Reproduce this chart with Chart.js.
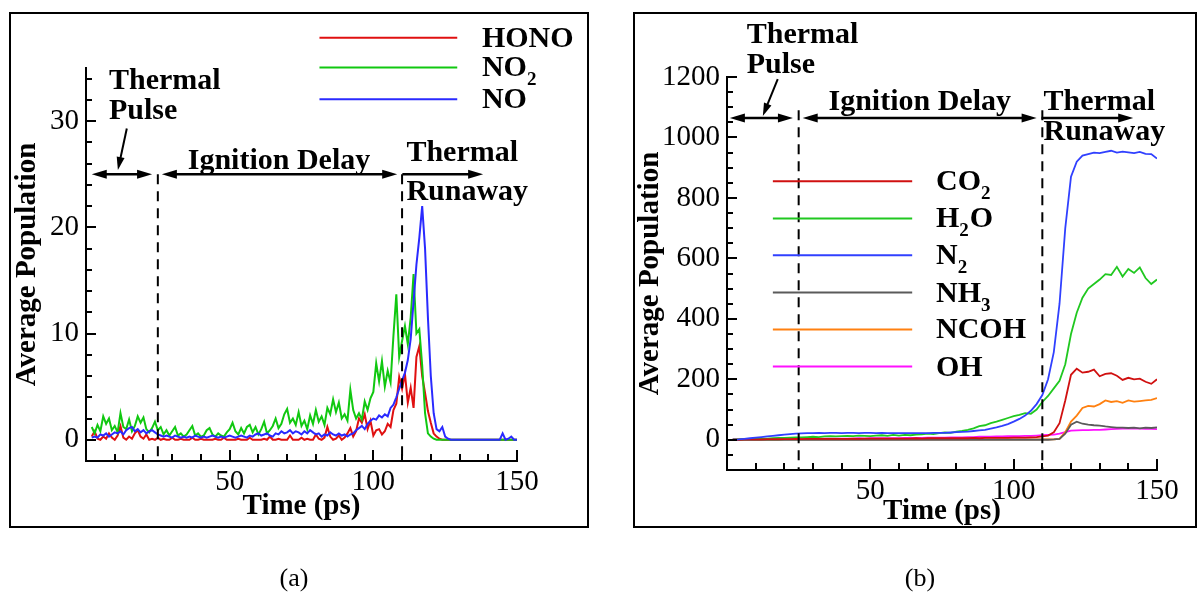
<!DOCTYPE html>
<html><head><meta charset="utf-8">
<script src="https://cdn.jsdelivr.net/npm/chart.js@4.4.0/dist/chart.umd.min.js"></script>
<style>
html,body{margin:0;padding:0;background:#fff;}
body{width:1198px;height:594px;position:relative;overflow:hidden;font-family:'Liberation Serif',serif;}
.frame{position:absolute;border:2px solid #000;box-sizing:border-box;}
canvas{position:absolute;left:0;top:0;}
.cap{position:absolute;font:26px 'Liberation Serif',serif;transform:translate(-50%,-50%);color:#000;}
</style></head>
<body>
<div class="frame" style="left:9px;top:12px;width:580px;height:516px"></div>
<div class="frame" style="left:633px;top:12px;width:564px;height:516px"></div>
<canvas id="ca" width="1198" height="594"></canvas>
<canvas id="cb" width="1198" height="594"></canvas>
<div class="cap" style="left:294px;top:578px">(a)</div>
<div class="cap" style="left:920px;top:578px">(b)</div>
<script>
const SERIF = "'Liberation Serif', 'Times New Roman', serif";
Chart.defaults.font.family = SERIF;
Chart.defaults.color = '#000';

// ---------- Panel (a) data ----------
const timeA = Array.from({length:149}, (_, i) => i + 2); // 2..150 ps
const honoA = [
 0.3,0.8,0.1,0,0.3,0.1,0.6,0.2,0,0.4,1.3,0.2,0,0.3,0.1,0.6,0.9,0.3,0.1,0.5,0,0.1,0,0.2,
 0,0.1,0,0,0.2,0,0,0.1,0,0,0,0.2,0,0,0.1,0,0,0,0,0.1,0,0,0.2,0,0,
 0,0,0.1,0,0,0,0.2,0,0,0,0,0.1,0,0.3,0,0,0.1,0,0,0,0.4,0,0,0,0.2,
 0,0.1,0,0,0.5,0.1,0,0.2,1.2,0.3,0,0.1,0.4,0,0.2,0.6,1.1,0.3,0.8,2.0,1.6,2.4,1.0,1.8,0.4,
 0.9,1.0,0.5,0.8,1.5,1.2,2.8,3.4,5.9,4.8,6.2,3.5,4.9,3.0,7.8,8.8,6.0,4.4,2.7,1.6,0.6,0.3,0.1,0,0,
 0,0,0,0,0,0,0,0,0,0,0,0,0,0,0,0,0,0,0,0,0,0,0,0,0
];
const no2A = [
 1.2,0.6,1.4,0.8,2.2,1.5,2.0,0.9,1.3,0.7,2.5,1.2,1.0,1.9,0.8,1.3,2.2,1.6,2.1,1.0,0.7,1.1,1.7,0.9,
 1.2,0.5,0.9,0.4,0.8,1.2,0.4,0.6,0.3,0.5,0.9,1.3,0.4,0.6,0.3,0.4,0.9,1.1,0.5,0.3,0.6,0.4,0.3,0.7,1.0,
 1.6,0.8,0.5,1.1,0.6,1.2,1.4,0.7,1.2,0.5,1.0,1.7,0.6,0.9,1.3,2.0,1.1,1.5,2.4,2.9,1.6,2.0,1.4,2.6,1.3,
 1.8,1.0,2.3,1.5,2.8,1.7,2.2,1.4,3.0,2.4,3.8,2.6,3.5,2.0,2.4,1.8,4.7,2.8,2.0,2.5,1.9,3.6,2.8,3.9,4.5,
 7.2,5.5,7.4,5.0,6.5,5.4,9.8,13.7,7.8,9.3,10.7,9.0,11.5,15.6,10.0,10.4,7.0,2.5,0.6,0.3,0.1,0,0,0,0,
 0,0,0,0,0,0,0,0,0,0,0,0,0,0,0,0,0,0,0,0,0,0,0,0,0
];
const noA = [
 0.2,0.3,0.2,0.5,0.4,0.6,0.3,0.5,0.7,0.6,0.8,0.5,0.9,1.1,1.2,0.8,1.0,0.7,0.9,0.6,0.8,0.9,0.7,0.5,
 0.4,0.3,0.4,0.3,0.2,0.4,0.3,0.2,0.3,0.2,0.3,0.2,0.4,0.3,0.2,0.3,0.2,0.3,0.4,0.3,0.2,0.3,0.2,0.3,0.4,
 0.3,0.2,0.3,0.4,0.3,0.2,0.4,0.3,0.5,0.6,0.4,0.5,0.6,0.4,0.3,0.6,0.5,0.8,0.6,0.7,0.9,0.6,0.8,0.7,0.5,
 0.8,0.6,0.9,0.7,0.5,0.6,0.3,0.5,0.4,0.7,0.5,0.4,0.6,0.4,0.5,0.3,0.5,0.6,0.9,1.1,1.3,1.0,1.5,1.8,2.0,
 1.9,2.3,2.1,2.4,2.2,3.0,3.3,4.0,4.8,5.6,6.3,7.5,9.5,13.0,16.5,19.0,22.0,18.0,11.5,6.0,2.5,1.0,0.8,1.2,0.3,
 0.1,0,0,0,0,0,0,0,0,0,0,0,0,0,0,0,0,0,0,0.6,0,0.1,0.3,0,0
];
const xTicksA = [50, 100, 150];
const yTicksA = [0, 10, 20, 30];

// ---------- Panel (b) data ----------
const timeB = Array.from({length:75}, (_, i) => 2 + 2 * i); // 2..150 ps
const co2B = [0,0,1,1,1, 1,2,2,2,2, 2,3,2,3,3, 3,3,3,3,3, 3,4,3,4,4, 4,4,4,4,4, 4,4,5,4,5, 5,5,5,5,5,
  5,5,6,5,6, 6,6,6,6,7, 7,7,8,9,11, 14,25,55,130,215, 235,222,225,232,210, 218,220,212,198,205, 200,202,192,185,200];
const h2oB = [0,1,2,2,3, 4,4,5,6,6, 7,8,8,9,10, 9,11,12,11,12, 13,12,14,13,12, 14,15,13,16,14, 16,15,17,18,20,
  19,22,24,23,27, 29,33,38,45,48, 55,60,66,72,78, 82,88,86,100,125, 145,170,195,250,350,
  420,470,500,515,530, 548,545,572,540,565, 552,570,535,515,530];
const n2B = [0,1,3,5,7, 9,11,13,15,17, 19,20,21,22,22, 23,22,23,23,22, 23,23,22,23,23, 22,23,22,22,22,
  22,22,22,22,22, 23,23,23,24,25, 26,27,29,31,33, 37,41,46,52,60, 69,80,96,118,148,
  200,290,450,700,870, 920,940,945,950,948, 952,956,950,953,951, 948,952,946,945,930];
const nh3B = [0,0,0,0,0, 0,0,0,0,0, 0,0,0,0,0, 0,0,0,0,0, 0,0,0,0,0, 0,0,0,0,0, 0,0,0,0,0,
  0,0,0,0,0, 0,0,0,0,0, 0,0,0,0,0, 0,0,0,0,0, 0,1,3,20,50, 60,53,50,48,47, 44,42,40,40,39, 40,38,40,39,41];
const ncohB = [0,0,0,0,0, 0,0,0,0,1, 1,1,1,1,1, 1,1,1,1,1, 1,1,1,1,1, 1,1,1,1,1, 1,1,1,1,1,
  1,1,1,1,1, 1,1,1,1,1, 1,1,1,1,1, 1,1,1,1,1, 1,1,3,25,60, 80,105,112,110,118, 130,125,128,122,130, 126,128,130,132,138];
const ohB = [0,0,1,1,1, 1,2,2,2,2, 3,3,3,3,3, 3,4,4,4,4, 4,4,5,4,5, 5,5,5,5,5, 6,6,6,6,7,
  7,7,7,8,8, 8,9,9,10,10, 10,11,11,12,12, 12,13,13,14,15, 16,17,20,25,30, 31,32,32,33,33, 34,35,36,37,37, 38,37,36,36,35];
const xTicksB = [50, 100, 150];
const yTicksB = [0, 200, 400, 600, 800, 1000, 1200];

const phaseBounds = [25, 110];

// ---------- decoration plugin (closure-held settings) ----------
function makeDecor(o) {
  return {
    id: 'decor',
    afterDraw(chart) {
      const ctx = chart.ctx, ca = chart.chartArea;
      const x = chart.scales.x, y = chart.scales.y;
      const X = v => x.getPixelForValue(v), Y = v => y.getPixelForValue(v);
      ctx.save();
      // inward tick marks (major + minor)
      ctx.fillStyle = '#000';
      const nY = Math.round((o.yTop - o.yMinorFrom) / o.yMinor);
      for (let k = 0; k <= nY; k++) {
        const v = o.yMinorFrom + k * o.yMinor;
        const len = o.yMajor.indexOf(v) >= 0 ? 10 : 6;
        const py = Math.round(Y(v));
        ctx.fillRect(Math.round(ca.left), py - 1, len, 2);
      }
      const nX = Math.round(o.xTop / o.xMinor);
      for (let k = 1; k <= nX; k++) {
        const v = k * o.xMinor;
        const len = o.xMajor.indexOf(v) >= 0 ? 11 : 7;
        const px = Math.round(X(v));
        ctx.fillRect(px - 1, Math.round(ca.bottom) - len, 2, len);
      }
      // phase boundaries (dashed)
      ctx.strokeStyle = '#000';
      ctx.lineWidth = 2; ctx.setLineDash([10, 7]);
      o.dashes.forEach(t => {
        ctx.beginPath(); ctx.moveTo(X(t), Y(o.dashTop)); ctx.lineTo(X(t), ca.bottom); ctx.stroke();
      });
      ctx.setLineDash([]);
      // arrows
      const head = (xa, ya, dir) => {
        ctx.beginPath(); ctx.moveTo(xa, ya); ctx.lineTo(xa - dir * 15, ya - 4.5); ctx.lineTo(xa - dir * 15, ya + 4.5); ctx.closePath(); ctx.fill();
      };
      ctx.fillStyle = '#000'; ctx.lineWidth = 2.5;
      const ay = Y(o.arrowY);
      o.arrows.forEach(([a, b, hs, he]) => {
        const xa = X(a), xb = X(b);
        ctx.beginPath(); ctx.moveTo(xa + (hs ? 6 : 0), ay); ctx.lineTo(xb - (he ? 6 : 0), ay); ctx.stroke();
        if (hs) head(xa, ay, -1);
        if (he) head(xb, ay, 1);
      });
      // pointer arrow from "Thermal Pulse"
      {
        const [t1, v1, t2, v2] = o.pointer;
        const x1 = X(t1), y1 = Y(v1), x2 = X(t2), y2 = Y(v2);
        const ang = Math.atan2(y2 - y1, x2 - x1);
        ctx.lineWidth = 2;
        ctx.beginPath(); ctx.moveTo(x1, y1); ctx.lineTo(x2 - 10 * Math.cos(ang), y2 - 10 * Math.sin(ang)); ctx.stroke();
        ctx.beginPath(); ctx.moveTo(x2, y2);
        ctx.lineTo(x2 - 13 * Math.cos(ang) + 4 * Math.sin(ang), y2 - 13 * Math.sin(ang) - 4 * Math.cos(ang));
        ctx.lineTo(x2 - 13 * Math.cos(ang) - 4 * Math.sin(ang), y2 - 13 * Math.sin(ang) + 4 * Math.cos(ang));
        ctx.closePath(); ctx.fill();
      }
      // annotation texts
      ctx.font = 'bold 30px ' + SERIF; ctx.textBaseline = 'alphabetic'; ctx.textAlign = 'left';
      o.texts.forEach(([s, t, v]) => ctx.fillText(s, X(t), Y(v)));
      // legend with subscripts
      const L = o.legend;
      chart.data.datasets.forEach((ds, i) => {
        const ly = Y(L.ys[i]);
        ctx.strokeStyle = ds.borderColor; ctx.lineWidth = 2;
        ctx.beginPath(); ctx.moveTo(X(L.x1), ly); ctx.lineTo(X(L.x2), ly); ctx.stroke();
        let cx = X(L.tx);
        ctx.fillStyle = '#000';
        L.parts[i].forEach(([s, sub]) => {
          ctx.font = sub ? 'bold 19px ' + SERIF : 'bold 30px ' + SERIF;
          ctx.fillText(s, cx, ly + 9 + (sub ? 9 : 0));
          cx += ctx.measureText(s).width + (sub ? 1 : 0);
        });
      });
      ctx.restore();
    }
  };
}

function makeOptions(p) {
  return {
    responsive: false, animation: false, devicePixelRatio: 1, events: [],
    layout: {padding: p.pad},
    elements: {point: {radius: 0}, line: {borderWidth: p.lw, tension: 0}},
    plugins: {legend: {display: false}, tooltip: {enabled: false}},
    scales: {
      x: {
        type: 'linear', min: 0, max: 150,
        afterBuildTicks: s => { s.ticks = p.xTicks.map(v => ({value: v})); },
        afterFit: s => { s.height = 60; },
        grid: {display: false, drawTicks: false},
        border: {display: true, color: '#000', width: 2},
        ticks: {autoSkip: false, maxRotation: 0, padding: 4, color: '#000', font: {size: 29, family: SERIF}, callback: v => String(v)},
        title: {display: true, text: 'Time (ps)', color: '#000', font: {size: 29, weight: 'bold', family: SERIF}, padding: {top: 0, bottom: p.xTitlePad}}
      },
      y: {
        type: 'linear', min: p.ymin, max: p.ymax,
        afterBuildTicks: s => { s.ticks = p.yTicks.map(v => ({value: v})); },
        afterFit: s => { s.width = p.yw; },
        grid: {display: false, drawTicks: false},
        border: {display: true, color: '#000', width: 2},
        ticks: {autoSkip: false, padding: 7, color: '#000', font: {size: 29, family: SERIF}, callback: v => String(v)},
        title: {display: true, text: 'Average Population', color: '#000', font: {size: 29, weight: 'bold', family: SERIF}, padding: {top: 10.6, bottom: 0}}
      }
    }
  };
}

const xy = (ts, vs) => ts.map((t, i) => ({x: t, y: vs[i]}));

new Chart(document.getElementById('ca'), {
  type: 'line',
  data: {datasets: [
    {label: 'HONO', data: xy(timeA, honoA), borderColor: '#e01010', order: 2},
    {label: 'NO2', data: xy(timeA, no2A), borderColor: '#10c810', order: 1},
    {label: 'NO', data: xy(timeA, noA), borderColor: '#2a2aff', order: 0}
  ]},
  options: makeOptions({
    pad: {left: 0, top: 68, right: 681, bottom: 73}, yw: 86, lw: 2, xTitlePad: -3,
    ymin: -2, ymax: 35, xTicks: xTicksA, yTicks: yTicksA
  }),
  plugins: [makeDecor({
    yMinorFrom: -2, yMinor: 2, yTop: 34, yMajor: yTicksA, xMinor: 10, xTop: 150, xMajor: xTicksA,
    dashes: phaseBounds, dashTop: 25, arrowY: 25,
    arrows: [[2, 23, true, true], [26.4, 108.3, true, true], [110.1, 138.2, false, true]],
    pointer: [14.2, 29.3, 11.1, 25.4],
    texts: [['Thermal', 8, 33.0], ['Pulse', 8, 30.2], ['Ignition Delay', 35.4, 25.5], ['Thermal', 111.5, 26.2], ['Runaway', 111.5, 22.6]],
    legend: {x1: 81.25, x2: 129.2, tx: 137.8, ys: [37.85, 35.05, 32.06],
      parts: [[['HONO']], [['NO'], ['2', 1]], [['NO']]]}
  })]
});

new Chart(document.getElementById('cb'), {
  type: 'line',
  data: {datasets: [
    {label: 'CO2', data: xy(timeB, co2B), borderColor: '#d01010', order: 1},
    {label: 'H2O', data: xy(timeB, h2oB), borderColor: '#20c820', order: 2},
    {label: 'N2', data: xy(timeB, n2B), borderColor: '#3040ff', order: 0},
    {label: 'NH3', data: xy(timeB, nh3B), borderColor: '#5a5a5a', order: 3},
    {label: 'NCOH', data: xy(timeB, ncohB), borderColor: '#ff8010', order: 4},
    {label: 'OH', data: xy(timeB, ohB), borderColor: '#ff10ff', order: 5}
  ]},
  options: makeOptions({
    pad: {left: 623, top: 77, right: 41, bottom: 64}, yw: 104, lw: 1.8, xTitlePad: 1,
    ymin: -100, ymax: 1200, xTicks: xTicksB, yTicks: yTicksB
  }),
  plugins: [makeDecor({
    yMinorFrom: -50, yMinor: 50, yTop: 1200, yMajor: yTicksB, xMinor: 10, xTop: 150, xMajor: xTicksB,
    dashes: phaseBounds, dashTop: 1090, arrowY: 1064,
    arrows: [[1, 23, true, true], [26.4, 108, true, true], [109.7, 141.7, false, true]],
    pointer: [17.7, 1193, 12.5, 1071],
    texts: [['Thermal', 6.9, 1313], ['Pulse', 6.9, 1213], ['Ignition Delay', 35.4, 1090], ['Thermal', 110.4, 1090], ['Runaway', 110.4, 991]],
    legend: {x1: 16.0, x2: 64.6, tx: 72.9, ys: [855, 732, 610, 487, 365, 242],
      parts: [[['CO'], ['2', 1]], [['H'], ['2', 1], ['O']], [['N'], ['2', 1]], [['NH'], ['3', 1]], [['NCOH']], [['OH']]]}
  })]
});
</script>
</body></html>
